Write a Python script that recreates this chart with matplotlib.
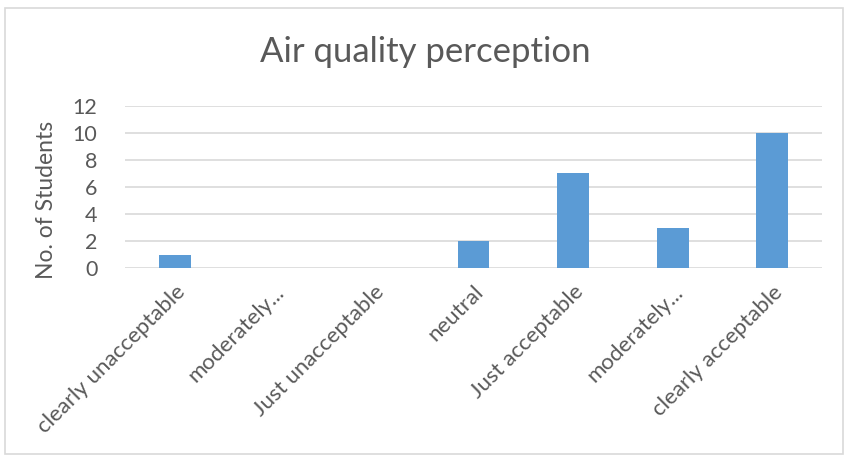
import matplotlib.pyplot as plt
from matplotlib.patches import Rectangle
import numpy as np

plt.rcParams['font.family'] = ['Lato', 'DejaVu Sans']

categories = ["clearly unacceptable", "moderately...", "Just unacceptable", "neutral",
              "Just acceptable", "moderately...", "clearly acceptable"]
students = [1, 0, 0, 2, 7, 3, 10]
y_ticks = [0, 2, 4, 6, 8, 10, 12]

text_col = "#595959"
bar_col = "#5b9bd5"

fig = plt.figure(figsize=(8.46, 4.58), dpi=100)
ax = fig.add_axes([0.1478, 0.4148, 0.8238, 0.3538])

x = np.arange(len(categories))
ax.bar(x, students, width=0.32, color=bar_col, zorder=3)

ax.set_xlim(-0.5, len(categories) - 0.5)
ax.set_ylim(0, 12)
ax.set_yticks(y_ticks)
ax.set_xticks(x)
ax.set_xticklabels(categories, rotation=45, ha="right", rotation_mode="anchor",
                   fontsize=16, color=text_col)
ax.tick_params(axis="y", labelsize=15.5, colors=text_col, length=0, pad=20)
ax.tick_params(axis="x", length=0, pad=10)
ax.grid(axis="y", color="#d9d9d9", linewidth=1.2, zorder=0)
for s in ax.spines.values():
    s.set_visible(False)

ax.set_ylabel("No. of Students", fontsize=16.5, color=text_col)
ax.yaxis.set_label_coords(-0.098, 0.42)
fig.text(0.503, 0.887, "Air quality perception", fontsize=25, color=text_col,
         ha="center", va="center")

# thin grey chart border
fig.patches.append(Rectangle((0.006, 0.008), 0.99, 0.975, transform=fig.transFigure,
                             fill=False, edgecolor="#d9d9d9", linewidth=1.2))

fig.savefig("out.png", dpi=100)
